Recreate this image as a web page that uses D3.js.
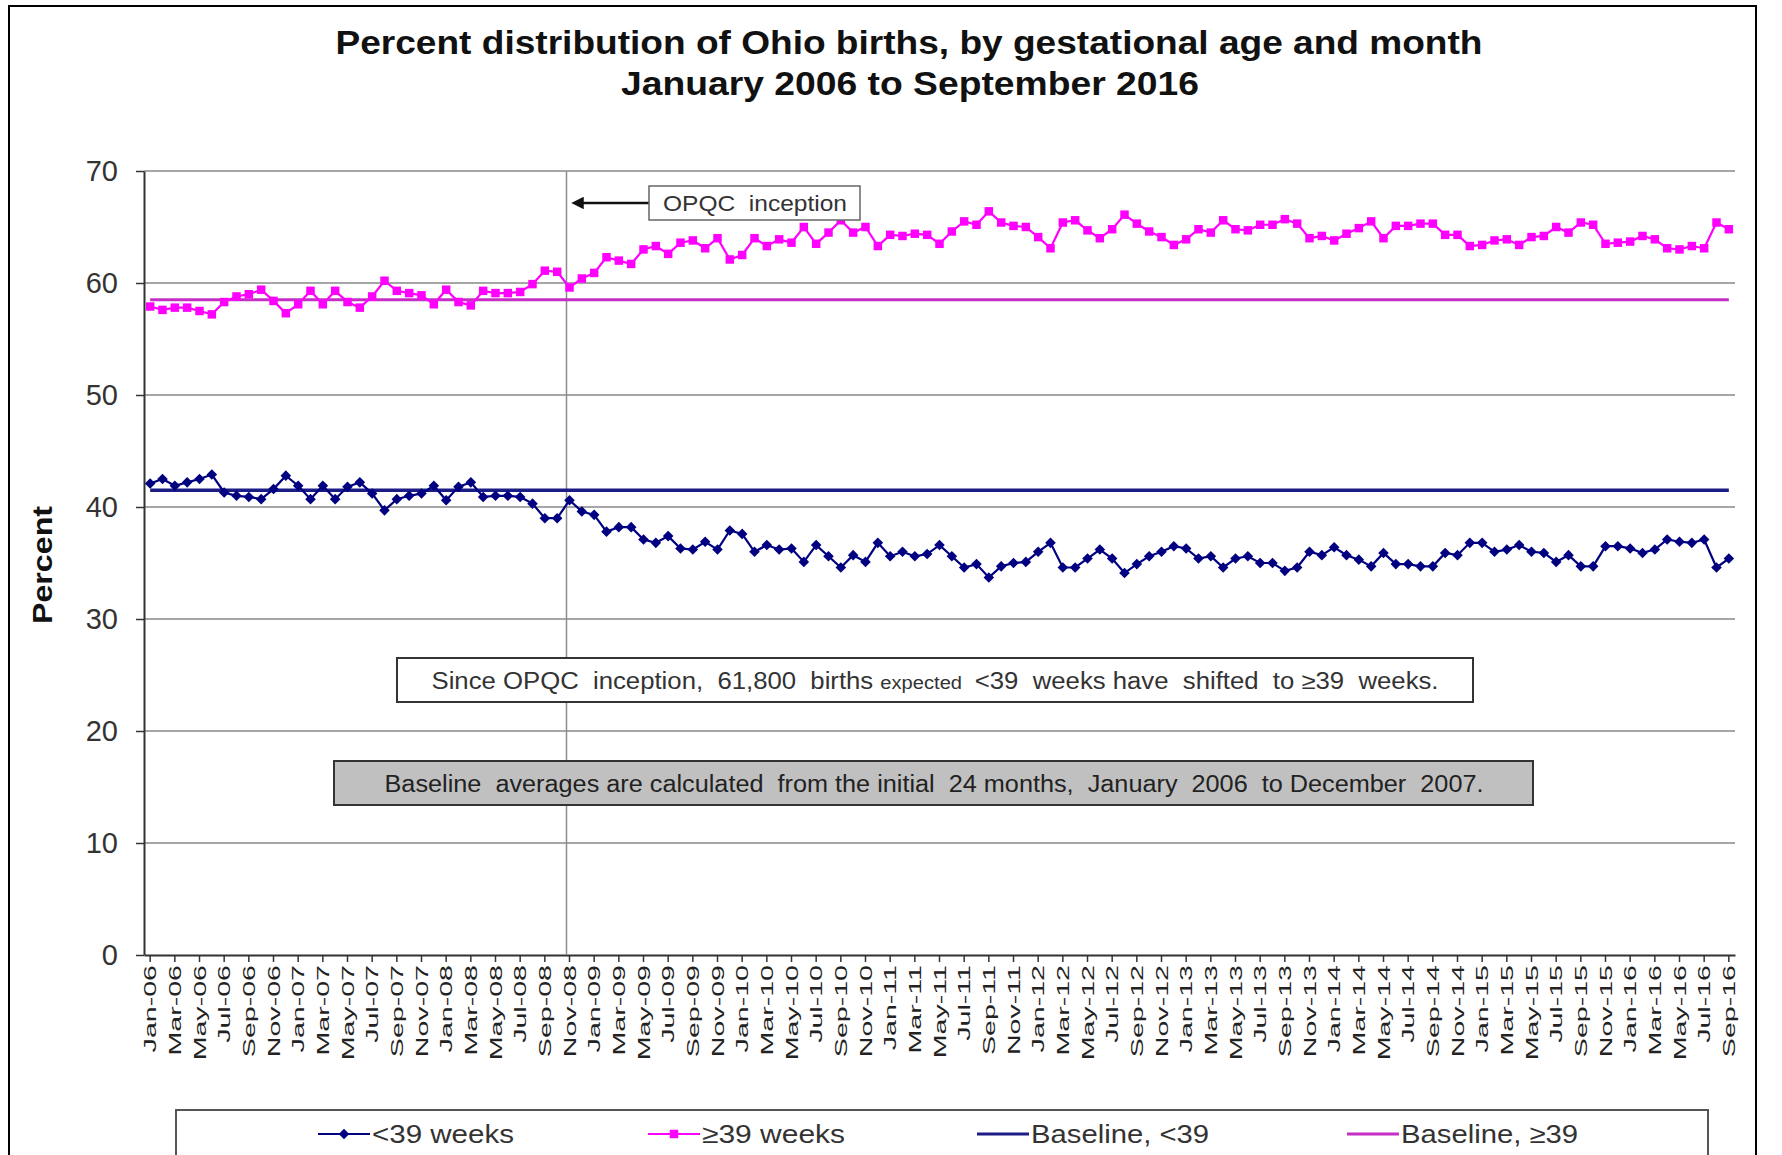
<!DOCTYPE html>
<html>
<head>
<meta charset="utf-8">
<script src="https://cdn.jsdelivr.net/npm/d3@7"></script>
<style>
  body { margin: 0; background: #fff; }
  svg { font-family: Arial, "Liberation Sans", sans-serif; }
</style>
</head>
<body>
<svg width="1782" height="1155"></svg>
<script>
// ---- data ----
var monthNames = ["Jan", "Feb", "Mar", "Apr", "May", "Jun", "Jul", "Aug", "Sep", "Oct", "Nov", "Dec"];
var yearLabels = ["06", "07", "08", "09", "10", "11", "12", "13", "14", "15", "16"];
var lastLabel = "Sep-16";

// percent of births <39 weeks, Jan-06 .. Sep-16
var lt39 = [
  42.1, 42.5, 41.9, 42.2, 42.5, 42.9, 41.3, 41.0, 40.9, 40.7, 41.6, 42.8,
  41.9, 40.7, 41.9, 40.7, 41.8, 42.2, 41.2, 39.7, 40.7, 41.0, 41.2, 41.9,
  40.6, 41.8, 42.2, 40.9, 41.0, 41.0, 40.9, 40.3, 39.0, 39.0, 40.6, 39.6,
  39.3, 37.8, 38.2, 38.2, 37.1, 36.8, 37.4, 36.3, 36.2, 36.9, 36.2, 37.9,
  37.6, 36.0, 36.6, 36.2, 36.3, 35.1, 36.6, 35.6, 34.6, 35.7, 35.1, 36.8,
  35.6, 36.0, 35.6, 35.8, 36.6, 35.6, 34.6, 34.9, 33.7, 34.7, 35.0, 35.1,
  36.0, 36.8, 34.6, 34.6, 35.4, 36.2, 35.4, 34.1, 34.9, 35.6, 36.0, 36.5,
  36.3, 35.4, 35.6, 34.6, 35.4, 35.6, 35.0, 35.0, 34.3, 34.6, 36.0, 35.7,
  36.4, 35.7, 35.3, 34.7, 35.9, 34.9, 34.9, 34.7, 34.7, 35.9, 35.7, 36.8,
  36.8, 36.0, 36.2, 36.6, 36.0, 35.9, 35.1, 35.7, 34.7, 34.7, 36.5, 36.5,
  36.3, 35.9, 36.2, 37.1, 36.9, 36.8, 37.1, 34.6, 35.4
];
// percent of births >=39 weeks
var ge39 = [
  57.9, 57.6, 57.8, 57.8, 57.5, 57.2, 58.3, 58.8, 59.0, 59.4, 58.4, 57.3,
  58.1, 59.3, 58.1, 59.3, 58.3, 57.8, 58.8, 60.2, 59.3, 59.1, 58.9, 58.1,
  59.4, 58.3, 58.0, 59.3, 59.1, 59.1, 59.2, 59.9, 61.1, 61.0, 59.6, 60.4,
  60.9, 62.3, 62.0, 61.7, 63.0, 63.3, 62.6, 63.6, 63.8, 63.1, 64.0, 62.1,
  62.5, 64.0, 63.3, 63.9, 63.6, 65.0, 63.5, 64.5, 65.6, 64.5, 65.0, 63.3,
  64.3, 64.2, 64.4, 64.3, 63.5, 64.6, 65.5, 65.2, 66.4, 65.4, 65.1, 65.0,
  64.1, 63.1, 65.4, 65.6, 64.7, 64.0, 64.8, 66.1, 65.3, 64.6, 64.1, 63.4,
  63.9, 64.8, 64.5, 65.6, 64.8, 64.7, 65.2, 65.2, 65.7, 65.3, 64.0, 64.2,
  63.8, 64.4, 64.9, 65.5, 64.0, 65.1, 65.1, 65.3, 65.3, 64.3, 64.3, 63.3,
  63.4, 63.8, 63.9, 63.4, 64.1, 64.2, 65.0, 64.5, 65.4, 65.2, 63.5, 63.6,
  63.7, 64.2, 63.9, 63.1, 63.0, 63.3, 63.1, 65.4, 64.8
];
var baselineLt39 = 41.5;
var baselineGe39 = 58.5;
var yTicks = [0, 10, 20, 30, 40, 50, 60, 70];
var opqcMonth = "Nov-08";

// build month category labels Jan-06 .. Sep-16
var months = [];
yearLabels.forEach(function(yy) {
  monthNames.forEach(function(m) {
    if (months.length && months[months.length - 1] == lastLabel) return;
    months.push(m + "-" + yy);
  });
});

// ---- layout ----
var svg = d3.select("svg");
var plotLeft = 144, plotRight = 1735, plotTop = 171, plotBottom = 955;
var navy = "#000080", magenta = "#ff00ff";

var x = d3.scaleBand().domain(months).range([plotLeft, plotRight]);
var y = d3.scaleLinear().domain([0, 70]).range([plotBottom, plotTop]);
function cx(m) { return x(m) + x.bandwidth() / 2; }

// text helper, stretches to the width seen in the picture
function label(xPos, yPos, str, size, width, opts) {
  opts = opts || {};
  var t = svg.append("text")
    .attr("x", xPos).attr("y", yPos)
    .attr("text-anchor", opts.anchor || "middle")
    .attr("xml:space", "preserve")
    .attr("font-size", size)
    .attr("font-weight", opts.bold ? "bold" : null)
    .attr("fill", opts.fill || "#222")
    .text(str);
  if (width) t.attr("textLength", width).attr("lengthAdjust", "spacingAndGlyphs");
  return t;
}

// outer frame
svg.append("rect")
  .attr("x", 9).attr("y", 6).attr("width", 1747).attr("height", 1200)
  .attr("fill", "#fff").attr("stroke", "#000").attr("stroke-width", 2);

// title
label(909, 54, "Percent distribution of Ohio births, by gestational age and month", 33, 1147, { bold: true, fill: "#111" });
label(910, 95, "January 2006 to September 2016", 33, 578, { bold: true, fill: "#111" });

// gridlines
svg.append("g")
  .selectAll("line")
  .data(yTicks.filter(function(d) { return d > 0; }))
  .enter().append("line")
  .attr("x1", plotLeft).attr("x2", plotRight)
  .attr("y1", function(d) { return y(d); })
  .attr("y2", function(d) { return y(d); })
  .attr("stroke", "#a6a6a6").attr("stroke-width", 2);

// y axis
var yAxis = svg.append("g")
  .attr("transform", "translate(" + plotLeft + ",0)")
  .call(d3.axisLeft(y).tickValues(yTicks).tickSize(8).tickSizeOuter(0));
yAxis.select(".domain").attr("stroke", "#333").attr("stroke-width", 2);
yAxis.selectAll(".tick line").attr("stroke", "#333").attr("stroke-width", 1.5);
yAxis.selectAll(".tick text")
  .attr("x", -26)
  .attr("font-size", 29).attr("fill", "#333")
  .attr("font-family", "Arial, 'Liberation Sans', sans-serif");

svg.append("text")
  .attr("transform", "translate(52," + (y(35) + 2) + ") rotate(-90)")
  .attr("text-anchor", "middle")
  .attr("font-size", 27).attr("font-weight", "bold").attr("fill", "#111")
  .attr("textLength", 118).attr("lengthAdjust", "spacingAndGlyphs")
  .text("Percent");

// x axis
var xAxis = svg.append("g")
  .attr("transform", "translate(0," + plotBottom + ")")
  .call(d3.axisBottom(x)
    .tickValues(months.filter(function(d, i) { return i % 2 == 0; }))
    .tickSize(7).tickSizeOuter(0));
xAxis.select(".domain").attr("stroke", "#333").attr("stroke-width", 2);
xAxis.selectAll(".tick line").attr("stroke", "#333").attr("stroke-width", 1.5);
xAxis.selectAll(".tick text")
  .attr("y", 0).attr("x", -6).attr("dy", "0.36em")
  .attr("text-anchor", "end")
  .attr("transform", "rotate(-90) scale(1.68,1)")
  .attr("font-size", 17).attr("fill", "#222")
  .attr("font-family", "Arial, 'Liberation Sans', sans-serif");

// OPQC inception vertical line
svg.append("line")
  .attr("x1", cx(opqcMonth) - 3).attr("x2", cx(opqcMonth) - 3)
  .attr("y1", y(70)).attr("y2", y(0))
  .attr("stroke", "#8c8c8c").attr("stroke-width", 1.5);

// baselines
var baseLine = d3.line()
  .x(function(d) { return cx(d); });
svg.append("path")
  .datum(months)
  .attr("d", baseLine.y(function() { return y(baselineGe39); }))
  .attr("fill", "none").attr("stroke", "#c62fc6").attr("stroke-width", 3);
svg.append("path")
  .datum(months)
  .attr("d", baseLine.y(function() { return y(baselineLt39); }))
  .attr("fill", "none").attr("stroke", "#1c1c86").attr("stroke-width", 3.5);

// data series
function drawSeries(values, color, rotate) {
  var line = d3.line()
    .x(function(d, i) { return cx(months[i]); })
    .y(function(d) { return y(d); });
  svg.append("path")
    .datum(values)
    .attr("d", line)
    .attr("fill", "none").attr("stroke", color).attr("stroke-width", 2.2);
  svg.append("g")
    .selectAll("path")
    .data(values)
    .enter().append("path")
    .attr("d", d3.symbol().type(d3.symbolSquare).size(rotate ? 56 : 72))
    .attr("transform", function(d, i) {
      return "translate(" + cx(months[i]) + "," + y(d) + ")" + (rotate ? " rotate(45)" : "");
    })
    .attr("fill", color);
}
drawSeries(ge39, magenta, false);
drawSeries(lt39, navy, true);

// OPQC inception label with arrow
var defs = svg.append("defs");
defs.append("marker")
  .attr("id", "arrow")
  .attr("viewBox", "0 0 10 10").attr("refX", 1).attr("refY", 5)
  .attr("markerWidth", 5).attr("markerHeight", 5)
  .attr("orient", "auto-start-reverse")
  .append("path").attr("d", "M0,0L10,5L0,10Z").attr("fill", "#111");
svg.append("line")
  .attr("x1", 649).attr("x2", cx(opqcMonth) + 13)
  .attr("y1", 203).attr("y2", 203)
  .attr("stroke", "#111").attr("stroke-width", 2.5)
  .attr("marker-end", "url(#arrow)");
svg.append("rect")
  .attr("x", 649).attr("y", 186).attr("width", 211).attr("height", 34)
  .attr("fill", "#fff").attr("stroke", "#666").attr("stroke-width", 1.5);
label(755, 211, "OPQC  inception", 22, 184, { fill: "#333" });

// annotation boxes
svg.append("rect")
  .attr("x", 397).attr("y", 658).attr("width", 1076).attr("height", 44)
  .attr("fill", "#fff").attr("stroke", "#333").attr("stroke-width", 2);
var note1 = label(935, 689, "", 23, 1007, { fill: "#333" });
note1.append("tspan").text("Since OPQC  inception,  61,800  births ");
note1.append("tspan").attr("font-size", 18).text("expected ");
note1.append("tspan").text(" <39  weeks have  shifted  to \u226539  weeks.");

svg.append("rect")
  .attr("x", 334).attr("y", 761).attr("width", 1199).attr("height", 44)
  .attr("fill", "#c0c0c0").attr("stroke", "#333").attr("stroke-width", 2);
label(934, 792, "Baseline  averages are calculated  from the initial  24 months,  January  2006  to December  2007.", 23, 1099, { fill: "#222" });

// legend
svg.append("rect")
  .attr("x", 176).attr("y", 1110).attr("width", 1532).attr("height", 80)
  .attr("fill", "#fff").attr("stroke", "#555").attr("stroke-width", 2);
var legendItems = [
  { label: "<39 weeks", color: navy, marker: "diamond", x: 318, w: 142 },
  { label: "\u226539 weeks", color: magenta, marker: "square", x: 648, w: 143 },
  { label: "Baseline, <39", color: "#1c1c86", marker: null, x: 977, w: 178 },
  { label: "Baseline, \u226539", color: "#c62fc6", marker: null, x: 1347, w: 177 }
];
var legend = svg.append("g")
  .selectAll("g")
  .data(legendItems)
  .enter().append("g")
  .attr("transform", function(d) { return "translate(" + d.x + ",1134)"; });
legend.append("line")
  .attr("x1", 0).attr("x2", 52).attr("y1", 0).attr("y2", 0)
  .attr("stroke", function(d) { return d.color; })
  .attr("stroke-width", function(d) { return d.marker ? 2 : 3; });
legend.filter(function(d) { return d.marker; })
  .append("path")
  .attr("d", function(d) { return d3.symbol().type(d3.symbolSquare).size(d.marker == "diamond" ? 56 : 72)(); })
  .attr("transform", function(d) { return "translate(26,0)" + (d.marker == "diamond" ? " rotate(45)" : ""); })
  .attr("fill", function(d) { return d.color; });
legend.append("text")
  .attr("x", 54).attr("y", 9)
  .attr("font-size", 26).attr("fill", "#333")
  .attr("textLength", function(d) { return d.w; })
  .attr("lengthAdjust", "spacingAndGlyphs")
  .text(function(d) { return d.label; });
</script>
</body>
</html>
